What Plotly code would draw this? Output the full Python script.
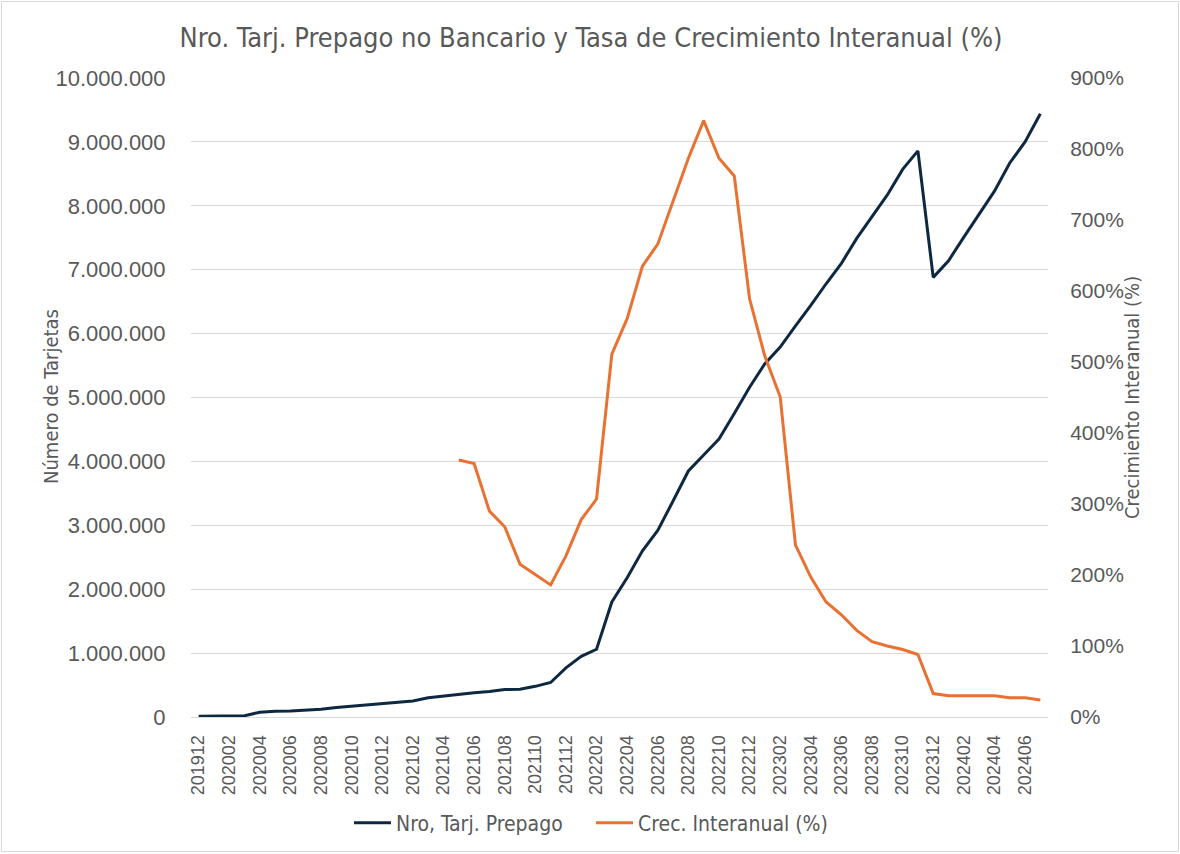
import plotly.graph_objects as go

periods = [
    "201912", "202001", "202002", "202003", "202004", "202005", "202006", "202007",
    "202008", "202009", "202010", "202011", "202012", "202101", "202102", "202103",
    "202104", "202105", "202106", "202107", "202108", "202109", "202110", "202111",
    "202112", "202201", "202202", "202203", "202204", "202205", "202206", "202207",
    "202208", "202209", "202210", "202211", "202212", "202301", "202302", "202303",
    "202304", "202305", "202306", "202307", "202308", "202309", "202310", "202311",
    "202312", "202401", "202402", "202403", "202404", "202405", "202406", "202407",
]

tarjetas = [
    10000, 12000, 15000, 20000, 75000, 90000, 92000, 110000,
    120000, 150000, 170000, 200000, 220000, 240000, 250000, 300000,
    330000, 350000, 380000, 400000, 430000, 435000, 480000, 540000,
    770000, 950000, 1060000, 1800000, 2180000, 2600000, 2920000, 3380000,
    3850000, 4100000, 4350000, 4750000, 5160000, 5530000, 5790000, 6120000,
    6440000, 6780000, 7100000, 7490000, 7840000, 8170000, 8570000, 8860000,
    6880000, 7140000, 7510000, 7880000, 8230000, 8670000, 9000000, 9440000,
]

crecimiento = [
    None, None, None, None, None, None, None, None,
    None, None, None, None, None, None, None, None,
    None, 362, 357, 290, 268, 215, 201, 186,
    227, 278, 307, 511, 561, 635, 666, 727,
    787, 840, 787, 762, 589, 508, 451, 242,
    197, 162, 144, 122, 106, 100, 95, 88,
    33, 30, 30, 30, 30, 27, 27, 24,
]

tick_labels = periods[::2]

NAVY = "#0E2841"
ORANGE = "#E97132"
GREY = "#595959"
NARROW = "Liberation Sans Narrow, DejaVu Sans Condensed, Arial Narrow, sans-serif"
SANS = "Liberation Sans, Arial, sans-serif"

W, H = 1180, 854
L, R, T, B = 191, 1048, 78, 717

fig = go.Figure()
fig.add_trace(go.Scatter(
    x=periods, y=tarjetas, name="Nro, Tarj. Prepago", mode="lines",
    line=dict(color=NAVY, width=3), yaxis="y",
))
fig.add_trace(go.Scatter(
    x=periods, y=crecimiento, name="Crec. Interanual (%)", mode="lines",
    line=dict(color=ORANGE, width=3), yaxis="y2", connectgaps=False,
))

def px(xp):
    return (xp - L) / (R - L)

def py(yp):
    return (B - yp) / (B - T)

fig.update_layout(
    width=W, height=H,
    margin=dict(l=L, r=W - R, t=T, b=H - B, autoexpand=False),
    paper_bgcolor="white", plot_bgcolor="white",
    separators=",.",
    title=dict(
        text="Nro. Tarj. Prepago no Bancario y Tasa de Crecimiento Interanual (%)",
        font=dict(family=NARROW, size=27, color=GREY),
        x=591 / W, xref="container", xanchor="center",
        y=1 - 38 / H, yref="container", yanchor="middle",
    ),
    xaxis=dict(
        type="category", tickmode="array", tickvals=tick_labels, ticktext=tick_labels,
        tickangle=-90, tickfont=dict(family=SANS, size=18, color=GREY),
        showgrid=False, showline=True, linecolor="#D9D9D9", linewidth=1,
        ticks="outside", ticklen=10, tickcolor="rgba(0,0,0,0)",
        range=[-0.5, len(periods) - 0.5], zeroline=False,
    ),
    yaxis=dict(
        range=[0, 10000000], dtick=1000000, tickformat=",d",
        tickfont=dict(family=SANS, size=22, color=GREY),
        showgrid=True, gridcolor="#D9D9D9", gridwidth=1, zeroline=False,
        ticks="outside", ticklen=20, tickcolor="rgba(0,0,0,0)",
    ),
    yaxis2=dict(
        range=[0, 900], dtick=100, ticksuffix="%", overlaying="y", side="right",
        tickfont=dict(family=SANS, size=21, color=GREY),
        showgrid=False, zeroline=False,
        ticks="outside", ticklen=17, tickcolor="rgba(0,0,0,0)",
    ),
    legend=dict(
        orientation="h", x=591 / W, xref="container", xanchor="center",
        y=1 - 823 / H, yref="container", yanchor="middle",
        font=dict(family=NARROW, size=21, color=GREY),
        itemwidth=37, entrywidth=190, entrywidthmode="pixels",
        bgcolor="rgba(0,0,0,0)",
    ),
    showlegend=True,
    annotations=[
        dict(text="Número de Tarjetas", textangle=-90, x=px(37), y=py(397),
             xref="paper", yref="paper", showarrow=False,
             font=dict(family=NARROW, size=20, color=GREY)),
        dict(text="Crecimiento Interanual (%)", textangle=-90, x=px(1146), y=py(398),
             xref="paper", yref="paper", showarrow=False,
             font=dict(family=NARROW, size=20, color=GREY)),
    ],
    shapes=[
        dict(type="rect", xref="paper", yref="paper",
             x0=px(1.5), x1=px(1178.5), y0=py(851.5), y1=py(1.5),
             line=dict(color="#D9D9D9", width=1), fillcolor="rgba(0,0,0,0)", layer="below"),
    ],
)

fig.write_html("out.html", config={"displayModeBar": False},
               post_script="document.body.style.margin='0';")
